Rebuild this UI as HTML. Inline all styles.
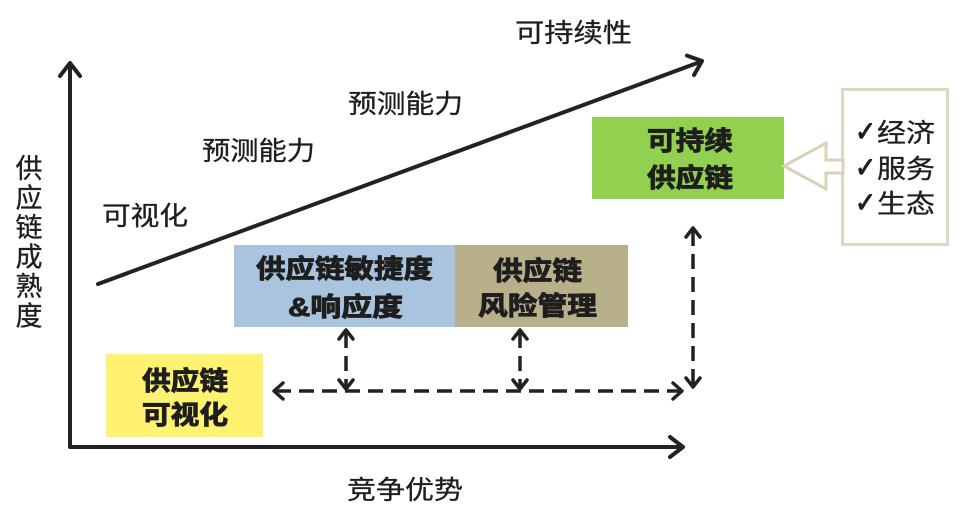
<!DOCTYPE html>
<html>
<head>
<meta charset="utf-8">
<style>
html,body{margin:0;padding:0;background:#fff;}
svg{display:block;}
text{font-family:"Liberation Sans","Noto Sans CJK SC","WenQuanYi Zen Hei",sans-serif;fill:#1e1e1e;}
.b{font-weight:700;}
.ck{font-family:"DejaVu Sans","Liberation Sans",sans-serif;}
</style>
</head>
<body>
<svg width="960" height="514" viewBox="0 0 960 514" xmlns="http://www.w3.org/2000/svg">
  <!-- boxes -->
  <rect x="234" y="245" width="221" height="82" fill="#a9c4df"/>
  <rect x="455" y="245" width="173" height="82" fill="#b8b08a"/>
  <rect x="106" y="354" width="157" height="83" fill="#fff270"/>
  <rect x="592" y="117" width="192" height="82" fill="#92d050"/>
  <rect x="842.5" y="89.5" width="105" height="155" fill="#fff" stroke="#dcd8c0" stroke-width="3"/>
  <polygon points="784,166 826,143 826,160 843,160 843,173 826,173 826,189" fill="#fff" stroke="#d8d3b6" stroke-width="3" stroke-linejoin="miter"/>

  <!-- axes -->
  <g stroke="#222" stroke-width="4" fill="none" stroke-linecap="round" stroke-linejoin="round">
    <polyline points="70,64 70,447 681,447"/>
    <polyline points="60,76 70,63 80,76"/>
    <polyline points="670,437 683,447 670,457"/>
    <line x1="98" y1="284" x2="700" y2="62"/>
    <polyline points="687,55.6 702,61 694,75"/>
  </g>

  <!-- dashed connectors -->
  <g stroke="#222" stroke-width="3.5" fill="none" stroke-dasharray="15 8">
    <line x1="276" y1="391" x2="680" y2="391"/>
    <line x1="346" y1="333" x2="346" y2="388"/>
    <line x1="520" y1="333" x2="520" y2="388"/>
    <line x1="693" y1="231" x2="693" y2="386"/>
  </g>
  <g stroke="#222" stroke-width="3.5" fill="none" stroke-linecap="round" stroke-linejoin="round">
    <polyline points="283,383 274,391 283,399"/>
    <polyline points="673,383 682,391 673,399"/>
    <polyline points="339,339 346,330 353,339"/>
    <polyline points="339,380 346,389 353,380"/>
    <polyline points="513,339 520,330 527,339"/>
    <polyline points="513,380 520,389 527,380"/>
    <polyline points="686,237 693,228 700,237"/>
    <polyline points="686,378 693,387 700,378"/>
  </g>

  <!-- plain labels -->
  <g stroke="#1e1e1e" stroke-width="0.3">
  <text x="515" y="42" font-size="26" textLength="117" lengthAdjust="spacingAndGlyphs">可持续性</text>
  <text x="348" y="113" font-size="26" textLength="115" lengthAdjust="spacingAndGlyphs">预测能力</text>
  <text x="202" y="160" font-size="26" textLength="113" lengthAdjust="spacingAndGlyphs">预测能力</text>
  <text x="102" y="225" font-size="26" textLength="86" lengthAdjust="spacingAndGlyphs">可视化</text>
  <text x="347" y="499" font-size="26" textLength="116" lengthAdjust="spacingAndGlyphs">竞争优势</text>

  <g font-size="27" text-anchor="middle">
    <text x="29" y="178">供</text>
    <text x="29" y="207.5">应</text>
    <text x="29" y="237">链</text>
    <text x="29" y="266.5">成</text>
    <text x="29" y="296">熟</text>
    <text x="29" y="325.5">度</text>
  </g>
  </g>

  <!-- box labels -->
  <g class="b" font-size="26" text-anchor="middle" stroke="#1e1e1e" stroke-width="0.9">
    <text x="344.5" y="278" textLength="177" lengthAdjust="spacingAndGlyphs">供应链敏捷度</text>
    <text x="345.5" y="316" textLength="115" lengthAdjust="spacingAndGlyphs">&amp;响应度</text>
    <text x="537.5" y="280" textLength="89" lengthAdjust="spacingAndGlyphs">供应链</text>
    <text x="537.5" y="315" textLength="119" lengthAdjust="spacingAndGlyphs">风险管理</text>
    <text x="185" y="390" textLength="86" lengthAdjust="spacingAndGlyphs">供应链</text>
    <text x="185" y="424" textLength="86" lengthAdjust="spacingAndGlyphs">可视化</text>
    <text x="690" y="150" textLength="86" lengthAdjust="spacingAndGlyphs">可持续</text>
    <text x="690" y="187" textLength="86" lengthAdjust="spacingAndGlyphs">供应链</text>
  </g>

  <!-- right list -->
  <g font-size="26" stroke="#1e1e1e" stroke-width="0.3">
    <text class="ck" x="855" y="141" font-size="28" stroke-width="1" textLength="21" lengthAdjust="spacingAndGlyphs">✓</text>
    <text x="877" y="142" textLength="58" lengthAdjust="spacingAndGlyphs">经济</text>
    <text class="ck" x="855" y="177" font-size="28" stroke-width="1" textLength="21" lengthAdjust="spacingAndGlyphs">✓</text>
    <text x="877" y="178" textLength="58" lengthAdjust="spacingAndGlyphs">服务</text>
    <text class="ck" x="855" y="212" font-size="28" stroke-width="1" textLength="21" lengthAdjust="spacingAndGlyphs">✓</text>
    <text x="877" y="213" textLength="58" lengthAdjust="spacingAndGlyphs">生态</text>
  </g>
</svg>
</body>
</html>
